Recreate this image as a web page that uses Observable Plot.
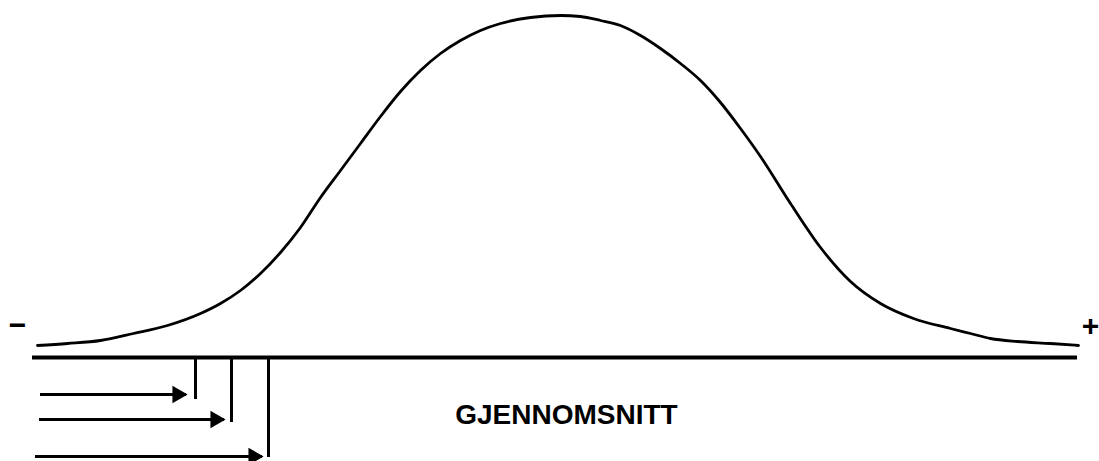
<!DOCTYPE html>
<html>
<head>
<meta charset="utf-8">
<script src="https://cdn.jsdelivr.net/npm/d3@7"></script>
<script src="https://cdn.jsdelivr.net/npm/@observablehq/plot@0.6"></script>
<style>
  html, body { margin: 0; padding: 0; background: #fff; }
  #chart { width: 1099px; height: 461px; }
</style>
</head>
<body>
<div id="chart"></div>
<script>
// Bell curve: position along axis and height above baseline
const curveX = [37, 67, 100, 133, 167, 200, 220, 240, 260, 280, 300, 320, 340, 360, 380, 400, 420, 440, 460, 480, 500, 530, 560, 580, 600, 620, 640, 660, 680, 700, 720, 740, 760, 790, 820, 850, 880, 913, 950, 970, 990, 1017, 1050, 1078];
const curveY = [12, 14, 17, 24, 32, 44, 54, 67, 84, 105, 130, 160, 187, 214, 241, 266, 287, 304, 317, 327, 334, 340, 342, 341, 337, 332, 322, 309, 294, 277, 255, 229, 201, 154, 110, 76, 54, 39, 29, 24, 19, 16, 14, 12];

// Baseline extent
const baseX = [32, 1077];

// Cut-off markers below the baseline
const tickX = [195, 231, 268];
const tickDepth = [-42, -65, -100];

// Arrows pointing to the cut-offs
const arrowStart = [40, 39, 35];
const arrowEnd = [186, 224, 262];
const arrowLevel = [-37, -62, -99];

// Labels
const labelText = ["GJENNOMSNITT"];
const labelX = [566];
const labelY = [-58];
const signText = ["\u2212", "+"];
const signX = [17, 1090];
const signY = [32, 31];

const curve = curveX.map((x, i) => ({x, y: curveY[i]}));
const ticks = tickX.map((x, i) => ({x, y1: 0, y2: tickDepth[i]}));
const arrows = arrowStart.map((x1, i) => ({x1, x2: arrowEnd[i], y: arrowLevel[i]}));
const labels = labelText.map((t, i) => ({t, x: labelX[i], y: labelY[i]}));
const signs = signText.map((t, i) => ({t, x: signX[i], y: signY[i]}));

const chart = Plot.plot({
  width: 1099,
  height: 461,
  margin: 0,
  x: {domain: [0, 1099], range: [0, 1099], axis: null},
  y: {domain: [-104, 357], range: [461, 0], axis: null},
  style: {background: "#fff", fontFamily: "'Liberation Sans', Arial, sans-serif"},
  marks: [
    Plot.line(curve, {x: "x", y: "y", curve: "monotone-x", stroke: "#000", strokeWidth: 2.8}),
    Plot.ruleY([0], {x1: baseX[0], x2: baseX[1], stroke: "#000", strokeWidth: 4}),
    Plot.ruleX(ticks, {x: "x", y1: "y1", y2: "y2", stroke: "#000", strokeWidth: 3}),
    Plot.ruleY(arrows, {x1: "x1", x2: "x2", y: "y", stroke: "#000", strokeWidth: 3}),
    Plot.dot(arrows, {x: "x2", y: "y", symbol: "triangle", r: 6.5, rotate: 90, fill: "#000", stroke: "none", dx: -9}),
    Plot.text(labels, {x: "x", y: "y", text: "t", fontSize: 28, fontWeight: "bold", textAnchor: "middle", lineAnchor: "middle", fill: "#000"}),
    Plot.text(signs, {x: "x", y: "y", text: "t", fontSize: 30, fontWeight: "bold", textAnchor: "middle", lineAnchor: "middle", fill: "#000"})
  ]
});
document.getElementById("chart").appendChild(chart);
</script>
</body>
</html>
